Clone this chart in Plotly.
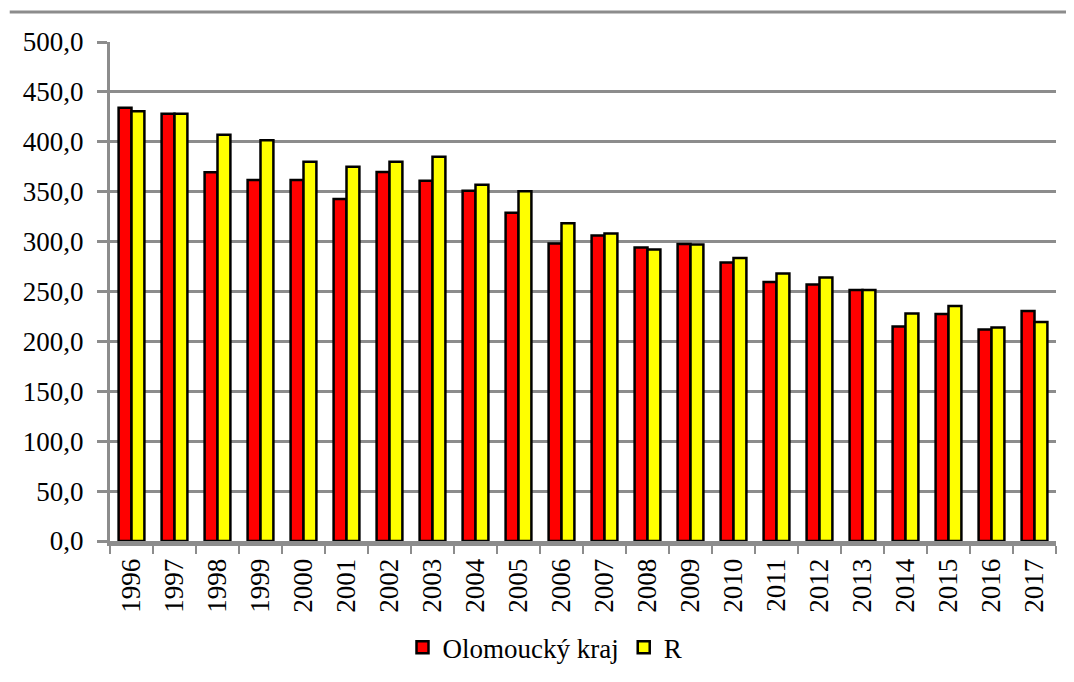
import plotly.graph_objects as go

years = [str(y) for y in range(1996, 2018)]
olomoucky = [434.0, 428.0, 369.5, 361.7, 361.7, 342.7, 369.7, 361.0, 351.0, 329.0, 298.0,
             306.0, 294.0, 297.5, 279.0, 259.5, 257.0, 251.5, 215.0, 227.5, 212.0, 230.5]
cr = [430.5, 428.0, 407.0, 401.5, 380.0, 375.0, 380.0, 385.0, 357.0, 350.5, 318.5,
      308.0, 292.0, 297.0, 283.5, 268.0, 264.0, 251.5, 228.0, 235.5, 214.0, 219.5]

GRID = "#8c8c8c"
FONT = "Liberation Serif"
txt = dict(family=FONT, size=27, color="black")

fig = go.Figure()

fig.add_trace(go.Bar(x=years, y=olomoucky, name="Olomoucký kraj",
                     marker=dict(color="#ff0000", line=dict(color="black", width=2.5))))
fig.add_trace(go.Bar(x=years, y=cr, name="R",
                     marker=dict(color="#ffff00", line=dict(color="black", width=2.5))))

# page body has an 8px margin, so offsets are shifted by that
fig.update_layout(
    width=1074, height=682,
    margin=dict(l=102, r=26, t=34, b=149, autoexpand=False),
    plot_bgcolor="white", paper_bgcolor="white",
    font=txt,
    separators=", ",
    barmode="group", bargap=0.4, bargroupgap=0,
    showlegend=True,
    legend=dict(orientation="h", x=0.5, xref="container", xanchor="center",
                y=0.062, yref="container", yanchor="middle",
                font=txt, itemwidth=30, traceorder="normal"),
    shapes=[dict(type="line", xref="paper", yref="paper", x0=-0.106, x1=1.03, y0=1.06, y1=1.06,
                 line=dict(color=GRID, width=3))],
)

fig.update_xaxes(
    type="category", showgrid=False, tickangle=-90, automargin=False,
    showline=True, linecolor=GRID, linewidth=5,
    ticks="outside", tickson="boundaries", ticklen=8, tickwidth=2, tickcolor=GRID,
    tickfont=txt, ticklabelstandoff=2,
)
fig.update_yaxes(
    range=[0, 500], dtick=50, tickformat=".1f", automargin=False,
    showgrid=True, gridcolor=GRID, gridwidth=3,
    showline=True, linecolor=GRID, linewidth=3,
    ticks="outside", ticklen=10, tickwidth=3, tickcolor=GRID,
    zeroline=False, tickfont=txt, ticklabelstandoff=8,
)

fig.write_html("out.html")
